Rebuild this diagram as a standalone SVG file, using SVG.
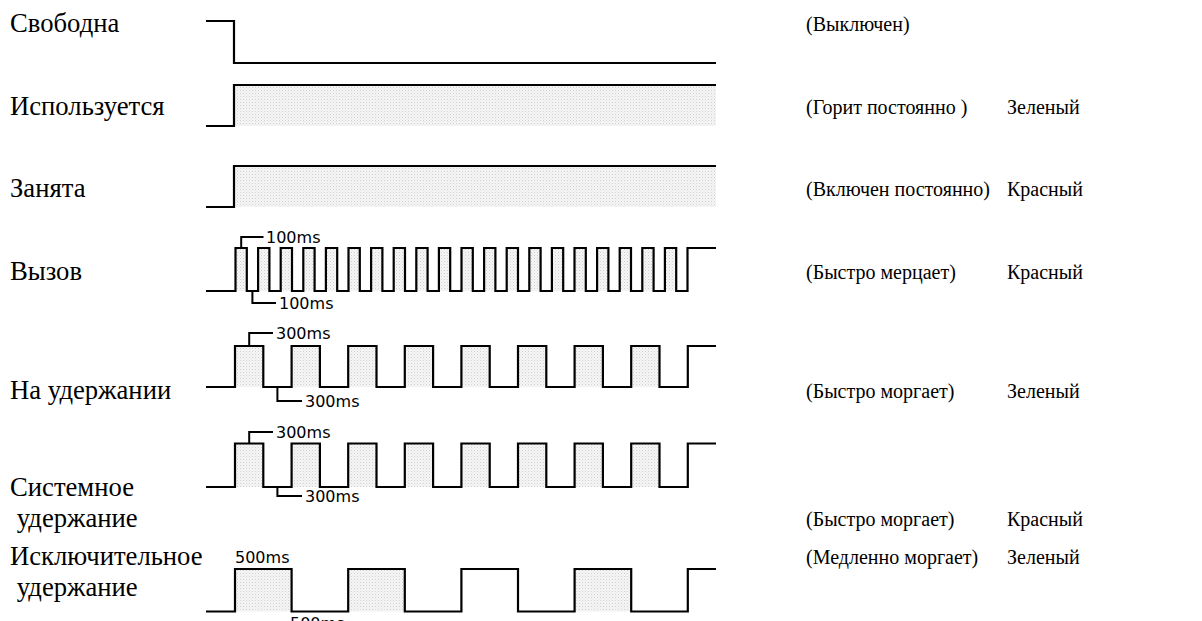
<svg xmlns="http://www.w3.org/2000/svg" width="1202" height="621" viewBox="0 0 1202 621">
<defs>
<pattern id="dots" width="3" height="3" patternUnits="userSpaceOnUse">
<rect width="3" height="3" fill="#f6f6f6"/>
<rect width="1" height="1" fill="#cfcfcf"/>
<rect x="1.5" y="1.5" width="1" height="1" fill="#dedede"/>
</pattern>
<style>
.lbl{font-family:"Liberation Serif","Times New Roman",serif;font-size:20px;fill:#000}
.name{font-family:"Liberation Serif","Times New Roman",serif;font-size:26.67px;fill:#000}
.ms{font-family:"DejaVu Sans",Verdana,sans-serif;font-size:16px;fill:#000}
.wave{fill:none;stroke:#000;stroke-width:2.2;stroke-linejoin:miter}
.br{fill:none;stroke:#000;stroke-width:2}
.fill{fill:url(#dots);stroke:none}
</style>
</defs>
<rect width="1202" height="621" fill="#fff"/>

<g id="row-free">
<text class="name" x="10" y="32">Свободна</text>
<path class="wave" d="M206,21 H234 V63 H716"/>
<text class="lbl" x="806" y="31">(Выключен)</text>
</g>

<g id="row-used">
<text class="name" x="10" y="115">Используется</text>
<rect class="fill" x="234" y="85" width="482" height="41"/>
<path class="wave" d="M206,126 H234 V85 H716"/>
<text class="lbl" x="806" y="114">(Горит постоянно )</text>
<text class="lbl" x="1007" y="114">Зеленый</text>
</g>

<g id="row-busy">
<text class="name" x="10" y="197">Занята</text>
<rect class="fill" x="234" y="166" width="482" height="41"/>
<path class="wave" d="M206,207 H234 V166 H716"/>
<text class="lbl" x="806" y="196">(Включен постоянно)</text>
<text class="lbl" x="1007" y="196">Красный</text>
</g>

<g id="row-call">
<text class="name" x="10" y="280">Вызов</text>
<path class="fill" d="M235.5,248 h11.3 v43 h-11.3z
m22.6,0 h11.3 v43 h-11.3z
m22.6,0 h11.3 v43 h-11.3z
m22.6,0 h11.3 v43 h-11.3z
m22.6,0 h11.3 v43 h-11.3z
m22.6,0 h11.3 v43 h-11.3z
m22.6,0 h11.3 v43 h-11.3z
m22.6,0 h11.3 v43 h-11.3z
m22.6,0 h11.3 v43 h-11.3z
m22.6,0 h11.3 v43 h-11.3z
m22.6,0 h11.3 v43 h-11.3z
m22.6,0 h11.3 v43 h-11.3z
m22.6,0 h11.3 v43 h-11.3z
m22.6,0 h11.3 v43 h-11.3z
m22.6,0 h11.3 v43 h-11.3z
m22.6,0 h11.3 v43 h-11.3z
m22.6,0 h11.3 v43 h-11.3z
m22.6,0 h11.3 v43 h-11.3z
m22.6,0 h11.3 v43 h-11.3z
m22.6,0 h11.3 v43 h-11.3z"/>
<path class="wave" d="M206,291 H235.5 V248
h11.3 V291 h11.3 V248
h11.3 V291 h11.3 V248
h11.3 V291 h11.3 V248
h11.3 V291 h11.3 V248
h11.3 V291 h11.3 V248
h11.3 V291 h11.3 V248
h11.3 V291 h11.3 V248
h11.3 V291 h11.3 V248
h11.3 V291 h11.3 V248
h11.3 V291 h11.3 V248
h11.3 V291 h11.3 V248
h11.3 V291 h11.3 V248
h11.3 V291 h11.3 V248
h11.3 V291 h11.3 V248
h11.3 V291 h11.3 V248
h11.3 V291 h11.3 V248
h11.3 V291 h11.3 V248
h11.3 V291 h11.3 V248
h11.3 V291 h11.3 V248
h11.3 V291 h11.3 V248
H716"/>
<text class="ms" x="266" y="242.5">100ms</text>
<text class="ms" x="279" y="308.5">100ms</text>
<text class="lbl" x="806" y="279">(Быстро мерцает)</text>
<text class="lbl" x="1007" y="279">Красный</text>
</g>

<g id="row-hold">
<text class="name" x="10" y="399">На удержании</text>
<path class="fill" d="M235,346 h28.3 v41 h-28.3z
m56.6,0 h28.3 v41 h-28.3z
m56.6,0 h28.3 v41 h-28.3z
m56.6,0 h28.3 v41 h-28.3z
m56.6,0 h28.3 v41 h-28.3z
m56.6,0 h28.3 v41 h-28.3z
m56.6,0 h28.3 v41 h-28.3z
m56.6,0 h28.3 v41 h-28.3z"/>
<path class="wave" d="M206,387 H235 V346
h28.3 V387 h28.3 V346
h28.3 V387 h28.3 V346
h28.3 V387 h28.3 V346
h28.3 V387 h28.3 V346
h28.3 V387 h28.3 V346
h28.3 V387 h28.3 V346
h28.3 V387 h28.3 V346
h28.3 V387 h28.3 V346
H716"/>
<text class="ms" x="276" y="338.5">300ms</text>
<text class="ms" x="305" y="406.5">300ms</text>
<text class="lbl" x="806" y="398">(Быстро моргает)</text>
<text class="lbl" x="1007" y="398">Зеленый</text>
</g>

<g id="row-syshold">
<text class="name" x="10" y="496">Системное</text>
<text class="name" x="16.7" y="527">удержание</text>
<path class="fill" d="M235,443.5 h28.3 v43.5 h-28.3z
m56.6,0 h28.3 v43.5 h-28.3z
m56.6,0 h28.3 v43.5 h-28.3z
m56.6,0 h28.3 v43.5 h-28.3z
m56.6,0 h28.3 v43.5 h-28.3z
m56.6,0 h28.3 v43.5 h-28.3z
m56.6,0 h28.3 v43.5 h-28.3z
m56.6,0 h28.3 v43.5 h-28.3z"/>
<path class="wave" d="M206,487 H235 V443.5
h28.3 V487 h28.3 V443.5
h28.3 V487 h28.3 V443.5
h28.3 V487 h28.3 V443.5
h28.3 V487 h28.3 V443.5
h28.3 V487 h28.3 V443.5
h28.3 V487 h28.3 V443.5
h28.3 V487 h28.3 V443.5
h28.3 V487 h28.3 V443.5
H716"/>
<text class="ms" x="276" y="437.5">300ms</text>
<text class="ms" x="305" y="501.5">300ms</text>
<text class="lbl" x="806" y="526">(Быстро моргает)</text>
<text class="lbl" x="1007" y="526">Красный</text>
</g>

<g id="row-exhold">
<text class="name" x="10" y="565">Исключительное</text>
<text class="name" x="16.7" y="596">удержание</text>
<path class="fill" d="M235,569 h56.6 v42.5 h-56.6z m113.2,0 h56.6 v42.5 h-56.6z m226.4,0 h56.6 v42.5 h-56.6z"/>
<path class="wave" d="M206,611.5 H235 V569
h56.6 V611.5 h56.6 V569
h56.6 V611.5 h56.6 V569
h56.6 V611.5 h56.6 V569
h56.6 V611.5 h56.6 V569
H716"/>
<text class="ms" x="235" y="563">500ms</text>
<text class="ms" x="290" y="629">500ms</text>
<text class="lbl" x="806" y="564">(Медленно моргает)</text>
<text class="lbl" x="1007" y="564">Зеленый</text>
</g>

<g id="connectors">
<path class="br" d="M241.2,248 V237 H263.5"/>
<path class="br" d="M252.4,291 V303 H276"/>
<path class="br" d="M249.2,346 V333 H273"/>
<path class="br" d="M277.4,387 V401 H302"/>
<path class="br" d="M249.2,443.5 V432 H273"/>
<path class="br" d="M277.4,487 V496 H302"/>
</g>
</svg>
